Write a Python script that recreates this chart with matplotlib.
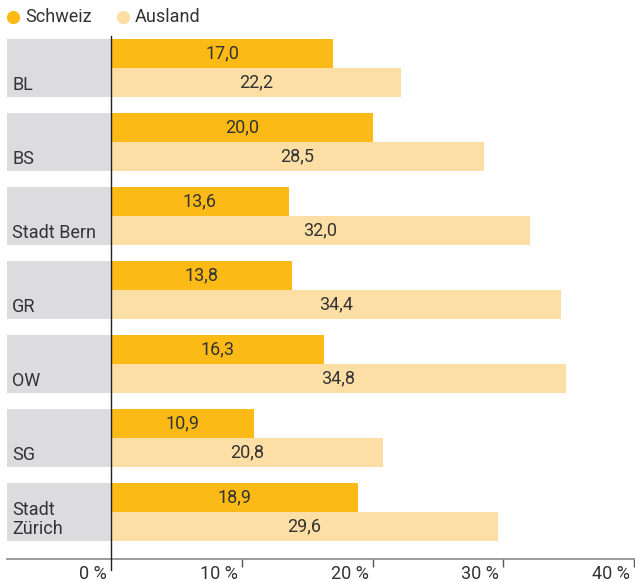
import matplotlib
matplotlib.use("Agg")
import matplotlib.pyplot as plt
from matplotlib.lines import Line2D
import numpy as np

# Data
categories = ["BL", "BS", "Stadt Bern", "GR", "OW", "SG", "Stadt\nZürich"]
schweiz = [17.0, 20.0, 13.6, 13.8, 16.3, 10.9, 18.9]
ausland = [22.2, 28.5, 32.0, 34.4, 34.8, 20.8, 29.6]
series_names = ["Schweiz", "Ausland"]
x_ticks = [0, 10, 20, 30, 40]
x_tick_labels = ["0 %", "10 %", "20 %", "30 %", "40 %"]

# Style
c_ch = "#FBBA16"
c_aus = "#FDDFA5"
c_panel = "#DCDCDE"
c_text = "#333333"
fs = 13
plt.rcParams["font.family"] = ["Roboto", "DejaVu Sans"]

W, H = 635, 582
fig = plt.figure(figsize=(W / 100, H / 100), dpi=100)

# axes: pixels x 7..635, y 30..559 (from top)
px_left, px_right = 7, 635
px_top, px_bottom = 30, 559
ax = fig.add_axes([px_left / W, (H - px_bottom) / H,
                   (px_right - px_left) / W, (px_bottom - px_top) / H])

px_per_unit = 13.08
x_zero_px = 111
xmin = -(x_zero_px - px_left) / px_per_unit
xmax = 40 + (px_right - (x_zero_px + 40 * px_per_unit)) / px_per_unit
ax.set_xlim(xmin, xmax)

step = 74.0
first_center = 68.0
ax.set_ylim((px_bottom - first_center) / step, (px_top - first_center) / step)

y = np.arange(len(categories))
bh = 29 / step
off = 14.5 / step

# label panels
ax.barh(y, -xmin, left=xmin, height=2 * bh, color=c_panel, zorder=1)

ax.barh(y - off, schweiz, height=bh, color=c_ch, zorder=2)
ax.barh(y + off, ausland, height=bh, color=c_aus, zorder=2)

for yi, v in zip(y, schweiz):
    ax.text(v / 2, yi - off, f"{v:.1f}".replace(".", ","), ha="center",
            va="center", fontsize=fs, color=c_text, zorder=3)
for yi, v in zip(y, ausland):
    ax.text(v / 2, yi + off, f"{v:.1f}".replace(".", ","), ha="center",
            va="center", fontsize=fs, color=c_text, zorder=3)

for yi, name in zip(y, categories):
    if "\n" in name:
        ax.text(xmin + 5 / px_per_unit, yi + 0.1, name, ha="left", va="center",
                fontsize=fs, color=c_text, linespacing=1.1, zorder=3)
    else:
        ax.text(xmin + 5 / px_per_unit, yi + off + 0.04, name, ha="left",
                va="center", fontsize=fs, color=c_text, zorder=3)

# axes styling
for s in ["top", "right", "left"]:
    ax.spines[s].set_visible(False)
ax.spines["bottom"].set_color("#8a8a8a")
ax.spines["bottom"].set_linewidth(1.2)
ax.set_yticks([])
ax.set_xticks(x_ticks[1:])
ax.set_xticklabels([])
ax.tick_params(axis="x", direction="out", length=6, width=1, color="#555555")

for t, lab in zip(x_ticks, x_tick_labels):
    ax.annotate(lab, xy=(t, 0), xycoords=("data", "axes fraction"),
                xytext=(-3, -14.5), textcoords="offset points", ha="right",
                va="baseline", fontsize=fs, color=c_text, annotation_clip=False)

# zero line
trans = ax.get_xaxis_transform()
ax.add_line(Line2D([0, 0], [(px_bottom - 36) / (px_bottom - px_top),
                            -(570 - px_bottom) / (px_bottom - px_top)],
                   transform=trans, color="#222222", lw=1.0,
                   clip_on=False, zorder=4))

# legend
leg_y = 1 - 17 / H
for xpx, col, name in [(13, c_ch, series_names[0]), (123, c_aus, series_names[1])]:
    fig.add_artist(Line2D([xpx / W], [leg_y], marker="o", markersize=9.5,
                          color=col, markeredgewidth=0, linestyle="none"))
    fig.text((xpx + 12) / W, leg_y, name, ha="left", va="center",
             fontsize=fs, color=c_text)

fig.savefig("out.png", dpi=100)
